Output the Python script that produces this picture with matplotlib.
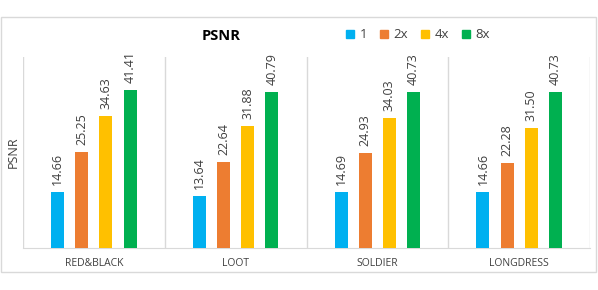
import numpy as np
import matplotlib
matplotlib.use('Agg')
import matplotlib.pyplot as plt
from matplotlib.patches import Patch, Rectangle

# datos
categorias = ['RED&BLACK', 'LOOT', 'SOLDIER', 'LONGDRESS']
series = ['1', '2x', '4x', '8x']
v_1 = [14.66, 13.64, 14.69, 14.66]
v_2x = [25.25, 22.64, 24.93, 22.28]
v_4x = [34.63, 31.88, 34.03, 31.50]
v_8x = [41.41, 40.79, 40.73, 40.73]
valores = [v_1, v_2x, v_4x, v_8x]
colores = ['#00B0F0', '#ED7D31', '#FFC000', '#00B050']

plt.rcParams['font.family'] = ['Open Sans', 'DejaVu Sans']
gris = '#404040'
linea = '#D9D9D9'

fig = plt.figure(figsize=(5.98, 2.90), dpi=100)
ax = fig.add_axes([23/598, 1 - 248/290, (590 - 23)/598, (248 - 57)/290])

n = len(categorias)
centros = np.arange(n) + 0.5
paso = 0.17
ancho = 0.092
desp = (np.arange(len(series)) - 1.5) * paso

for k, (vals, col) in enumerate(zip(valores, colores)):
    xs = centros + desp[k]
    ax.bar(xs, vals, width=ancho, color=col, zorder=3)
    for x, v in zip(xs, vals):
        ax.annotate(f'{v:.2f}', (x, v), xytext=(0, 5), textcoords='offset points',
                    rotation=90, ha='center', va='bottom', fontsize=9, color=gris)

ax.set_xlim(0, n)
ax.set_ylim(0, 50)
for b in range(n + 1):
    ax.axvline(b, color=linea, lw=1, zorder=1)
for s in ['top', 'left', 'right']:
    ax.spines[s].set_visible(False)
ax.spines['bottom'].set_color(linea)
ax.set_yticks([])
ax.set_xticks(centros)
ax.set_xticklabels(categorias, fontsize=7.5, color=gris)
ax.tick_params(axis='x', length=0, pad=7)
ax.set_ylabel('PSNR', fontsize=9, color=gris, labelpad=2)

fig.text(221/598, 1 - 36/290, 'PSNR', fontsize=10.5, weight='bold',
         ha='center', va='center', color='black')

handles = [Patch(color=c) for c in colores]
fig.legend(handles, series, loc='center', bbox_to_anchor=(418/598, 1 - 35/290),
           ncol=4, frameon=False, fontsize=9.5, handlelength=0.6, handleheight=0.5,
           handletextpad=0.4, columnspacing=1.0, labelcolor=gris, borderpad=0)

# borde exterior
fig.patches.append(Rectangle((1/598, 1 - 272/290), 595/598, 255/290,
                             transform=fig.transFigure, fill=False,
                             edgecolor=linea, lw=1))

fig.savefig('out.png', dpi=100)
